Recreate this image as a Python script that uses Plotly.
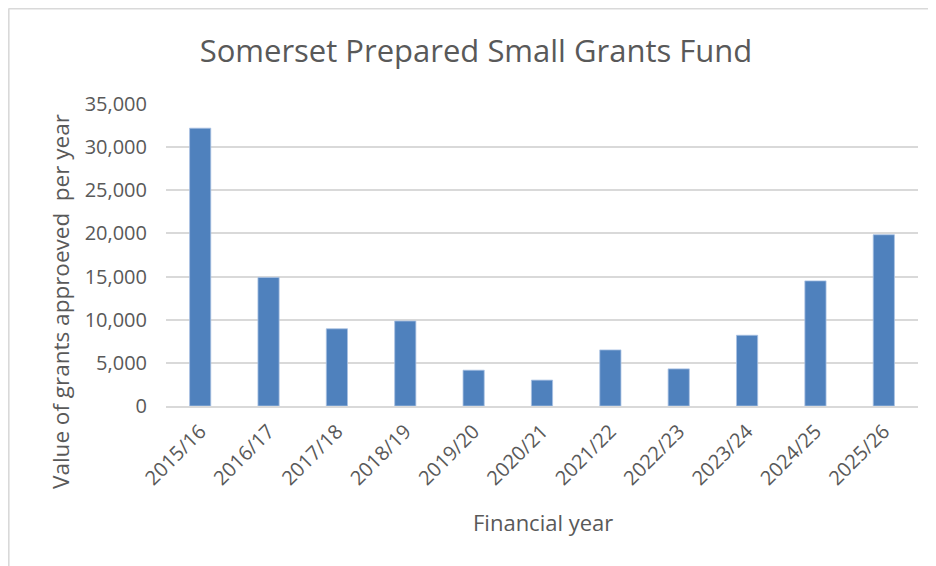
import plotly.graph_objects as go

years = ["2015/16", "2016/17", "2017/18", "2018/19", "2019/20", "2020/21",
         "2021/22", "2022/23", "2023/24", "2024/25", "2025/26"]
grant_values = [32200, 14900, 8950, 9850, 4150, 3000, 6500, 4300, 8200, 14500, 19850]

title_text = "Somerset Prepared Small Grants Fund"
y_title = "Value of grants approeved  per year"
x_title = "Financial year"

FONT = "Open Sans"
GREY = "#595959"

# page body adds an 8px offset; work in screen coordinates and shift
OFF = 8
W, H = 936, 566
L, R, T, B = 166 - OFF, W - (918 - OFF), 104 - OFF, H - (406 - OFF)
PW, PH = W - L - R, H - T - B


def px(x):
    return (x - OFF - L) / PW


def py(y):
    return (H - B - (y - OFF)) / PH


fig = go.Figure()
fig.add_trace(go.Bar(
    x=years, y=grant_values,
    marker=dict(color="#4f81bd", line=dict(color="#a9c1e3", width=0.8)),
))

fig.update_layout(
    width=W, height=H,
    margin=dict(l=L, r=R, t=T, b=B),
    paper_bgcolor="white", plot_bgcolor="white",
    bargap=0.69,
    showlegend=False,
    font=dict(family=FONT, color=GREY, size=20),
    title=dict(text=title_text, x=(476 - OFF) / W, xanchor="center",
               y=1 - (51 - OFF) / H, yanchor="middle",
               font=dict(family=FONT, size=31, color=GREY)),
    shapes=[
        dict(type="line", xref="paper", yref="paper", x0=px(8.6), x1=px(8.6), y0=py(8.6), y1=py(H + 20),
             line=dict(color="#d9d9d9", width=2)),
        dict(type="line", xref="paper", yref="paper", x0=px(8.6), x1=px(W + 20), y0=py(8.6), y1=py(8.6),
             line=dict(color="#d9d9d9", width=2)),
    ],
    annotations=[
        dict(text=y_title, xref="paper", yref="paper", x=px(60), y=py(302), textangle=-90,
             showarrow=False, xanchor="center", yanchor="middle",
             font=dict(size=22.5, color=GREY, family=FONT)),
        dict(text=x_title, xref="paper", yref="paper", x=px(543), y=py(522),
             showarrow=False, xanchor="center", yanchor="middle",
             font=dict(size=22, color=GREY, family=FONT)),
    ],
)

fig.update_yaxes(
    range=[0, 35000], dtick=5000, tickformat=",",
    showgrid=True, gridcolor="#d9d9d9", gridwidth=1.5,
    zeroline=False, showline=False, automargin=False,
    ticks="", ticklabelstandoff=18,
    tickfont=dict(size=20, color=GREY),
)
fig.update_xaxes(
    showline=True, linecolor="#d9d9d9", linewidth=1.5, automargin=False,
    showgrid=False, ticks="", tickangle=-45, ticklabelstandoff=4,
    tickfont=dict(size=20, color=GREY),
)

fig.write_html("out.html")
